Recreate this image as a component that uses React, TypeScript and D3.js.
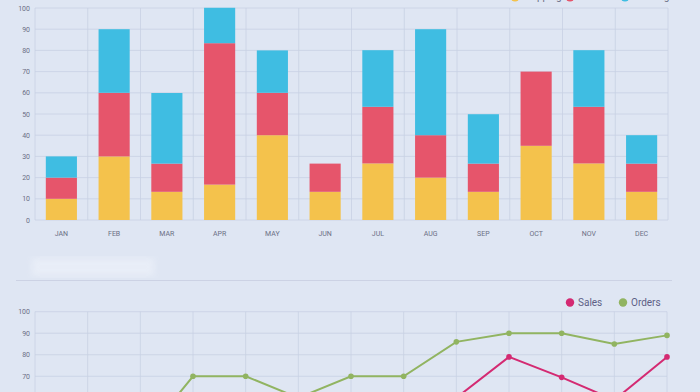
import * as d3 from "d3";
import { useEffect, useRef } from "react";

const months = ["JAN", "FEB", "MAR", "APR", "MAY", "JUN", "JUL", "AUG", "SEP", "OCT", "NOV", "DEC"];
const seriesNames = ["Shipping", "Returns", "Pending"];
const yellowValues = [10, 30, 13.3, 16.7, 40, 13.3, 26.7, 20, 13.3, 35, 26.7, 13.3];
const redValues = [10, 30, 13.3, 66.7, 20, 13.3, 26.7, 20, 13.3, 35, 26.7, 13.3];
const blueValues = [10, 30, 33.3, 16.7, 20, 0, 26.7, 50, 23.3, 0, 26.7, 13.4];
const yTicks = [0, 10, 20, 30, 40, 50, 60, 70, 80, 90, 100];

const linePoints = ["P0", "P1", "P2", "P3", "P4", "P5", "P6", "P7", "P8", "P9", "P10", "P11", "P12"];
const salesValues = [25, 35, 30, 40, 38, 45, 42, 50, 60, 79, 69.5, 59, 79];
const ordersValues = [45, 50, 40, 70, 70, 60, 70, 70, 86, 90, 90, 85, 89];

const colors = ["#f4c24c", "#e6556b", "#3fbde2"];
const salesColor = "#d42a72";
const ordersColor = "#91b461";
const gridColor = "#c8d0e3";
const textColor = "#6b6f85";

const App = () => {
  const width = 700;
  const height = 392;
  const svgRef = useRef(null);

  useEffect(() => {
    const svg = d3.select(svgRef.current);
    svg.selectAll("*").remove();

    const defs = svg.append("defs");
    defs.append("filter").attr("id", "blur").append("feGaussianBlur").attr("stdDeviation", 3);

    // ---------- stacked bars ----------
    const x = d3.scaleBand(months, [35, 668]).padding(0);
    const y = d3.scaleLinear([0, 100], [220, 8]);

    const grid = svg.append("g").attr("stroke", gridColor).attr("stroke-width", 0.8);
    grid
      .selectAll("line.h")
      .data(yTicks)
      .join("line")
      .attr("x1", 35)
      .attr("x2", 668)
      .attr("y1", (d) => y(d))
      .attr("y2", (d) => y(d));
    grid
      .selectAll("line.v")
      .data(d3.range(months.length + 1))
      .join("line")
      .attr("x1", (i) => 35 + i * x.step())
      .attr("x2", (i) => 35 + i * x.step())
      .attr("y1", y(100))
      .attr("y2", y(0));

    svg
      .append("g")
      .selectAll("text")
      .data(yTicks)
      .join("text")
      .attr("x", 30)
      .attr("y", (d) => y(d) + 2.5)
      .attr("text-anchor", "end")
      .attr("font-size", 7)
      .attr("font-family", "Roboto, sans-serif")
      .attr("fill", textColor)
      .text((d) => d);

    const table = months.map((m, i) => ({ month: m, a: yellowValues[i], b: redValues[i], c: blueValues[i] }));
    const stacked = d3.stack().keys(["a", "b", "c"])(table);
    const barW = x.bandwidth() * 0.59;

    svg
      .append("g")
      .selectAll("g")
      .data(stacked)
      .join("g")
      .attr("fill", (_, i) => colors[i])
      .selectAll("rect")
      .data((s) => s)
      .join("rect")
      .attr("x", (d) => x(d.data.month) + (x.bandwidth() - barW) / 2)
      .attr("y", (d) => y(d[1]))
      .attr("width", barW)
      .attr("height", (d) => y(d[0]) - y(d[1]));

    svg
      .append("g")
      .selectAll("text")
      .data(months)
      .join("text")
      .attr("x", (d) => x(d) + x.bandwidth() / 2)
      .attr("y", 236)
      .attr("text-anchor", "middle")
      .attr("font-size", 7)
      .attr("font-family", "Roboto, sans-serif")
      .attr("fill", textColor)
      .text((d) => d);

    // top legend (cut off by the frame, as in the photo)
    const topLegend = svg.append("g").attr("font-family", "Roboto, sans-serif").attr("font-size", 10);
    seriesNames.forEach((name, i) => {
      const lx = 515 + i * 55;
      topLegend.append("circle").attr("cx", lx).attr("cy", -3).attr("r", 4.5).attr("fill", colors[i]);
      topLegend.append("text").attr("x", lx + 8).attr("y", 0).attr("fill", textColor).text(name);
    });

    // separator and blurred patch
    svg
      .append("rect")
      .attr("x", 32)
      .attr("y", 258)
      .attr("width", 122)
      .attr("height", 18)
      .attr("fill", "#f2f5fc")
      .attr("opacity", 0.5)
      .attr("filter", "url(#blur)");
    svg
      .append("line")
      .attr("x1", 16)
      .attr("x2", 672)
      .attr("y1", 280.5)
      .attr("y2", 280.5)
      .attr("stroke", "#c6cde0")
      .attr("stroke-width", 0.8);

    // ---------- line chart ----------
    const lx = d3.scalePoint(linePoints, [35, 667]);
    const ly = d3.scaleLinear([0, 100], [527, 311.7]);

    const grid2 = svg.append("g").attr("stroke", gridColor).attr("stroke-width", 0.8);
    grid2
      .selectAll("line.h")
      .data(yTicks)
      .join("line")
      .attr("x1", 35)
      .attr("x2", 667)
      .attr("y1", (d) => ly(d))
      .attr("y2", (d) => ly(d));
    grid2
      .selectAll("line.v")
      .data(linePoints)
      .join("line")
      .attr("x1", (d) => lx(d))
      .attr("x2", (d) => lx(d))
      .attr("y1", ly(100))
      .attr("y2", ly(0));

    // only the labels that fall inside the frame
    svg
      .append("g")
      .selectAll("text")
      .data(yTicks.filter((d) => ly(d) < height - 4))
      .join("text")
      .attr("x", 30)
      .attr("y", (d) => ly(d) + 2.5)
      .attr("text-anchor", "end")
      .attr("font-size", 7)
      .attr("font-family", "Roboto, sans-serif")
      .attr("fill", textColor)
      .text((d) => d);

    const drawLine = (values, color) => {
      const line = d3
        .line()
        .x((_, i) => lx(linePoints[i]))
        .y((d) => ly(d));
      svg
        .append("path")
        .attr("d", line(values))
        .attr("fill", "none")
        .attr("stroke", color)
        .attr("stroke-width", 2);
      svg
        .append("g")
        .selectAll("circle")
        .data(values)
        .join("circle")
        .attr("cx", (_, i) => lx(linePoints[i]))
        .attr("cy", (d) => ly(d))
        .attr("r", 2.8)
        .attr("fill", color);
    };
    drawLine(ordersValues, ordersColor);
    drawLine(salesValues, salesColor);

    const legend = svg.append("g").attr("font-family", "Roboto, sans-serif").attr("font-size", 10);
    [
      { name: "Sales", color: salesColor, x: 570 },
      { name: "Orders", color: ordersColor, x: 623 },
    ].forEach((item) => {
      legend.append("circle").attr("cx", item.x).attr("cy", 302.5).attr("r", 4.2).attr("fill", item.color);
      legend
        .append("text")
        .attr("x", item.x + 8)
        .attr("y", 306)
        .attr("fill", "#5d5f86")
        .text(item.name);
    });
  }, []);

  return (
    <svg
      width={width}
      height={height}
      ref={svgRef}
      style={{ position: "fixed", left: 0, top: 0, background: "#dfe6f3", display: "block" }}
    ></svg>
  );
};

export default App;
